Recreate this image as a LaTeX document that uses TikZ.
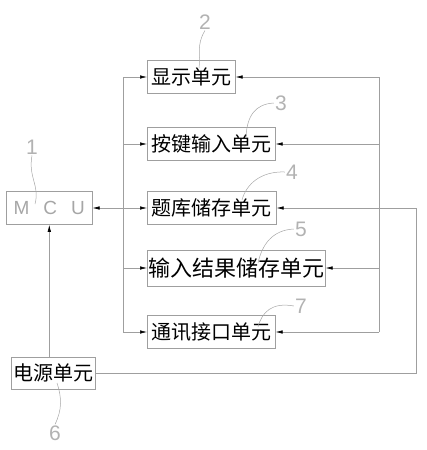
\documentclass[tikz,border=0pt]{standalone}
\usepackage{fontspec}
\newfontfamily\cjk{Noto Sans CJK SC}
\setsansfont{Liberation Sans}
\usetikzlibrary{arrows.meta,positioning}

\tikzset{
  unitbox/.style={draw=gray!75, line width=0.6pt, inner sep=1pt, minimum height=33,
    font=\cjk\fontsize{20}{20}\selectfont, anchor=west},
  wire/.style={draw=gray!75, line width=0.6pt},
  tip/.style={-{Latex[length=7pt,width=3.5pt,color=black]}},
  biptip/.style={{Latex[length=7pt,width=3.5pt,color=black]}-{Latex[length=7pt,width=3.5pt,color=black]}},
  numlabel/.style={text=gray!60, font=\sffamily\fontsize{21}{21}\selectfont, inner sep=1pt},
  leader/.style={draw=gray!70, line width=0.5pt}
}

\begin{document}
\begin{tikzpicture}[x=1pt, y=-1pt]
\useasboundingbox (0,0) rectangle (426,450);

% Units
\node[unitbox, minimum width=86, text=gray!70, font=\sffamily\fontsize{19}{19}\selectfont] (mcu) at (6,208) {M\hspace{14pt}C\hspace{14pt}U};
\node[unitbox, minimum width=88] (disp) at (147,77) {显示单元};
\node[unitbox, minimum width=128] (key) at (147,144) {按键输入单元};
\node[unitbox, minimum width=129] (bank) at (147,208) {题库储存单元};
\node[unitbox, minimum width=169, minimum height=36, font=\cjk\fontsize{22}{22}\selectfont] (res) at (147,268) {输入结果储存单元};
\node[unitbox, minimum width=128] (comm) at (147,332) {通讯接口单元};
\node[unitbox, minimum width=84, minimum height=32] (power) at (11,373) {电源单元};

% Bus points
\coordinate (lbusT) at (123,77);
\coordinate (lbusB) at (123,332);
\coordinate (rbusT) at (379,77);
\coordinate (rbusB) at (379,332);
\coordinate (loopR) at (416,208);

% Left bus
\draw[wire] (lbusT) -- (lbusB);
\foreach \u in {disp,key,res,comm}
  \draw[wire,tip] (lbusT |- \u.west) -- (\u.west);
\draw[wire,biptip] (mcu.east) -- (bank.west);

% Right bus
\draw[wire] (rbusT) -- (rbusB);
\foreach \u in {disp,key,res,comm}
  \draw[wire,tip] (rbusT |- \u.east) -- (\u.east);

% Power lines
\draw[wire,tip] (power.east) -| (loopR) -- (bank.east);
\draw[wire,tip] (power.north -| mcu.south) -- (mcu.south);

% Reference numbers
\node[numlabel] (n1) at (32,147) {1};
\node[numlabel] (n2) at (205,22) {2};
\node[numlabel] (n3) at (281,103) {3};
\node[numlabel] (n4) at (292,172) {4};
\node[numlabel] (n5) at (301,229) {5};
\node[numlabel] (n7) at (301,306) {7};
\node[numlabel] (n6) at (55,433) {6};

\draw[leader] (n1.south) .. controls (28,178) and (40,185) .. (35,204);
\draw[leader] (n2.south) .. controls (196,45) and (201,55) .. (199,68);
\draw[leader] (n3.west) .. controls (255,104) and (247,116) .. (246,137);
\draw[leader] (n4.west) .. controls (260,171) and (246,185) .. (242,200);
\draw[leader] (n5.west) .. controls (272,230) and (262,245) .. (258,263);
\draw[leader] (n7.west) .. controls (272,302) and (262,312) .. (258,327);
\draw[leader] (n6.north) .. controls (62,410) and (62,398) .. (57,383);

\end{tikzpicture}
\end{document}
